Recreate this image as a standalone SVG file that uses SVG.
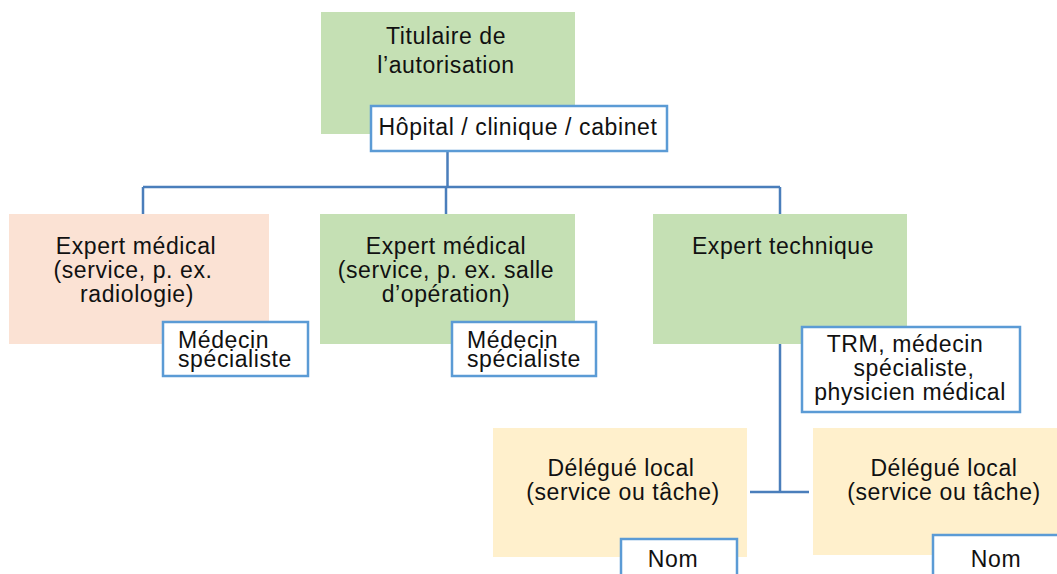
<svg xmlns="http://www.w3.org/2000/svg" width="1057" height="574" viewBox="0 0 1057 574">
  <style>
    .green { fill: #C5E0B4; }
    .peach { fill: #FBE2D4; }
    .yellow { fill: #FFF0CC; }
    .label { fill: #FFFFFF; stroke: #5B9BD5; stroke-width: 2.5; }
    .conn { stroke: #4A7EBB; stroke-width: 2.5; fill: none; }
    text { font-family: "Liberation Sans", Arial, sans-serif; font-size: 23px; fill: #111111; letter-spacing: 0.6px; }
    .c { text-anchor: middle; }
  </style>
  <rect width="1057" height="574" fill="#FFFFFF"/>
  <g id="connectors">
    <path class="conn" d="M447.5,151 V187"/>
    <path class="conn" d="M143,187 H780"/>
    <path class="conn" d="M143,187 V214"/>
    <path class="conn" d="M446,187 V214"/>
    <path class="conn" d="M780,187 V214"/>
    <path class="conn" d="M780,344 V492"/>
    <path class="conn" d="M750,492 H809"/>
  </g>
  <g id="titulaire">
    <rect class="green" x="321" y="12" width="254" height="122"/>
    <text class="c" x="446" y="44">Titulaire de</text>
    <text class="c" x="446" y="73">l’autorisation</text>
    <rect class="label" x="371" y="106" width="296" height="45"/>
    <text class="c" x="518" y="135">Hôpital / clinique / cabinet</text>
  </g>
  <g id="expert-radiologie">
    <rect class="peach" x="9" y="214" width="260" height="130"/>
    <text class="c" x="136" y="254">Expert médical</text>
    <text class="c" x="133" y="278">(service, p. ex.</text>
    <text class="c" x="137" y="302">radiologie)</text>
    <rect class="label" x="163" y="322" width="145" height="54"/>
    <text x="178" y="348">Médecin</text>
    <text x="178" y="367">spécialiste</text>
  </g>
  <g id="expert-operation">
    <rect class="green" x="320" y="214" width="255" height="130"/>
    <text class="c" x="446" y="254">Expert médical</text>
    <text class="c" x="446" y="278">(service, p. ex. salle</text>
    <text class="c" x="446" y="302">d’opération)</text>
    <rect class="label" x="452" y="322" width="144" height="54"/>
    <text x="467" y="348">Médecin</text>
    <text x="467" y="367">spécialiste</text>
  </g>
  <g id="expert-technique">
    <rect class="green" x="653" y="214" width="254" height="130"/>
    <text class="c" x="783" y="254">Expert technique</text>
    <rect class="label" x="802" y="327" width="218" height="85"/>
    <text class="c" x="905" y="352">TRM, médecin</text>
    <text class="c" x="914" y="376">spécialiste,</text>
    <text class="c" x="910" y="400">physicien médical</text>
  </g>
  <g id="delegue-1">
    <rect class="yellow" x="493" y="428" width="254" height="129"/>
    <text class="c" x="621" y="476">Délégué local</text>
    <text class="c" x="623" y="500">(service ou tâche)</text>
    <rect class="label" x="621" y="539" width="116" height="45"/>
    <text class="c" x="673" y="567">Nom</text>
  </g>
  <g id="delegue-2">
    <rect class="yellow" x="813" y="428" width="254" height="127"/>
    <text class="c" x="944" y="476">Délégué local</text>
    <text class="c" x="944" y="500">(service ou tâche)</text>
    <rect class="label" x="933" y="535" width="140" height="50"/>
    <text class="c" x="996" y="567">Nom</text>
  </g>
</svg>
